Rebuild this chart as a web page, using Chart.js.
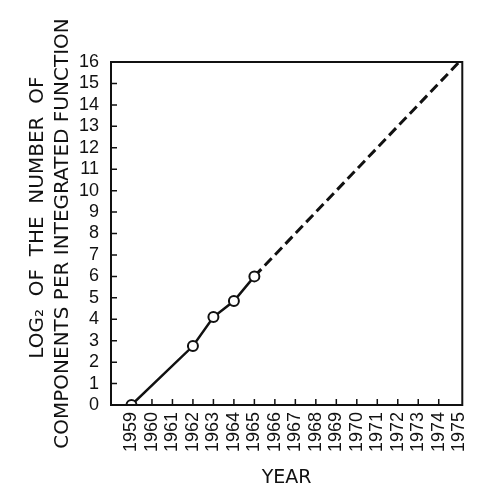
<!DOCTYPE html>
<html>
<head>
<meta charset="utf-8">
<script src="https://cdn.jsdelivr.net/npm/chart.js@4/dist/chart.umd.min.js"></script>
<style>
  html, body { margin: 0; padding: 0; background: #fff; }
  #wrap { width: 488px; height: 490px; }
</style>
</head>
<body>
<div id="wrap"><canvas id="chart" width="488" height="490"></canvas></div>
<script>
// measured points (year, log2 of components)
const measuredYears = [1959, 1962, 1963, 1964, 1965];
const measuredLog2 = [0, 2.75, 4.1, 4.85, 6];

// extrapolation
const projYears = [1965, 1975];
const projLog2 = [6, 16];

const yearTicks = [1959, 1960, 1961, 1962, 1963, 1964, 1965, 1966, 1967, 1968,
  1969, 1970, 1971, 1972, 1973, 1974, 1975];
const log2Ticks = [0, 1, 2, 3, 4, 5, 6, 7, 8, 9, 10, 11, 12, 13, 14, 15, 16];

const TICK_FONT = "'Liberation Sans', Arial, sans-serif";
const TITLE_FONT = "'DejaVu Sans', sans-serif";
const INK = '#111';

// box around the plot plus short inward tick marks
const frame = {
  id: 'frame',
  afterDraw(chart) {
    const { ctx, chartArea: a, scales } = chart;
    ctx.save();
    ctx.strokeStyle = INK;
    ctx.lineWidth = 2;
    ctx.strokeRect(a.left, a.top, a.right - a.left, a.bottom - a.top);
    ctx.lineWidth = 1.5;
    ctx.beginPath();
    log2Ticks.slice(1, -1).forEach(v => {
      const y = scales.y.getPixelForValue(v);
      ctx.moveTo(a.left, y);
      ctx.lineTo(a.left + 6, y);
    });
    yearTicks.slice(1, -1).forEach(v => {
      const x = scales.x.getPixelForValue(v);
      ctx.moveTo(x, a.bottom);
      ctx.lineTo(x, a.bottom - 6);
    });
    ctx.stroke();
    ctx.restore();
  }
};

new Chart(document.getElementById('chart'), {
  type: 'line',
  data: {
    datasets: [
      {
        data: measuredYears.map((x, i) => ({ x, y: measuredLog2[i] })),
        borderColor: INK,
        borderWidth: 2.5,
        pointRadius: 5,
        pointBorderWidth: 2,
        pointBackgroundColor: '#fff',
        pointBorderColor: INK,
        tension: 0
      },
      {
        data: projYears.map((x, i) => ({ x, y: projLog2[i] })),
        borderColor: INK,
        borderWidth: 3,
        borderDash: [10, 5],
        pointRadius: 0,
        tension: 0
      }
    ]
  },
  options: {
    responsive: false,
    animation: false,
    layout: { padding: { top: 62, right: 21, left: 0, bottom: 0 } },
    plugins: { legend: { display: false }, tooltip: { enabled: false } },
    scales: {
      x: {
        type: 'linear',
        min: 1958,
        max: 1975.15,
        afterBuildTicks: s => { s.ticks = yearTicks.map(v => ({ value: v })); },
        afterFit: s => { s.height = 85; },
        grid: { display: false, drawTicks: false },
        border: { display: false },
        ticks: {
          color: INK,
          font: { family: TICK_FONT, size: 18 },
          minRotation: 90,
          maxRotation: 90,
          padding: 7,
          autoSkip: false,
          callback: v => String(v)
        },
        title: {
          display: true,
          text: 'YEAR',
          color: INK,
          font: { family: TITLE_FONT, size: 19 },
          padding: { top: 0, bottom: 1 }
        }
      },
      y: {
        min: 0,
        max: 16,
        afterBuildTicks: s => { s.ticks = log2Ticks.map(v => ({ value: v })); },
        afterFit: s => { s.width = 111; },
        grid: { display: false, drawTicks: false },
        border: { display: false },
        ticks: {
          color: INK,
          font: { family: TICK_FONT, size: 18 },
          padding: 12,
          autoSkip: false,
          callback: v => String(v)
        },
        title: {
          display: true,
          text: ['     LOG₂  OF  THE  NUMBER  OF', 'COMPONENTS PER INTEGRATED FUNCTION'],
          color: INK,
          font: { family: TITLE_FONT, size: 20, lineHeight: 1.25 },
          padding: { top: 25, bottom: 0 }
        }
      }
    }
  },
  plugins: [frame]
});
</script>
</body>
</html>
